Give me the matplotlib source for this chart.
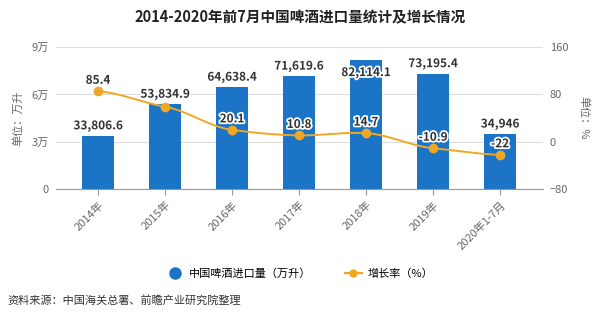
import numpy as np
import matplotlib
matplotlib.use("Agg")
import matplotlib.pyplot as plt
import matplotlib.patheffects as pe
from matplotlib.lines import Line2D

plt.rcParams['font.family'] = ['Noto Sans CJK SC', 'DejaVu Sans']

categories = ["2014年", "2015年", "2016年", "2017年", "2018年", "2019年", "2020年1-7月"]
imports = [33806.6, 53834.9, 64638.4, 71619.6, 82114.1, 73195.4, 34946]
import_labels = ["33,806.6", "53,834.9", "64,638.4", "71,619.6", "82,114.1", "73,195.4", "34,946"]
growth = [85.4, 59.3, 20.1, 10.8, 14.7, -10.9, -22]
growth_labels = ["85.4", "", "20.1", "10.8", "14.7", "-10.9", "-22"]
left_ticks = [0, 30000, 60000, 90000]
left_ticklabels = ["0", "3万", "6万", "9万"]
right_ticks = [-80, 0, 80, 160]

BAR = "#1B74C6"
LINE = "#F0A824"
TXT = "#333333"
GRAY = "#666666"

fig = plt.figure(figsize=(6, 3.25), dpi=100)
ax = fig.add_axes([0.093, 0.418, 0.812, 0.437])
ax2 = ax.twinx()

x = np.arange(len(categories))
ax.bar(x, imports, width=0.48, color=BAR, zorder=2)
ax.set_ylim(0, 90000)
ax.set_xlim(-0.63, 6.64)
ax.set_yticks(left_ticks)
ax.set_yticklabels(left_ticklabels)
ax.grid(axis='y', color='#dddddd', linewidth=0.8, zorder=0)
ax.set_axisbelow(True)
for s in ['top', 'right', 'left']:
    ax.spines[s].set_visible(False)
ax.spines['bottom'].set_color('#999999')
ax.tick_params(axis='y', length=0, labelsize=8, labelcolor=GRAY, pad=5)
ax.tick_params(axis='x', length=4, color='#999999', labelsize=8, labelcolor=GRAY)
ax.set_xticks(x)
ax.set_xticklabels(categories, rotation=45, ha='right', rotation_mode='anchor')

# smooth drawing of growth line (cubic Hermite through data points)
g = np.array(growth, dtype=float)
xs, ys = [], []
for i in range(len(g) - 1):
    p0 = g[i - 1] if i > 0 else g[i]
    p3 = g[i + 2] if i + 2 < len(g) else g[i + 1]
    m1 = (g[i + 1] - p0) / 2 * 0.6
    m2 = (p3 - g[i]) / 2 * 0.6
    t = np.linspace(0, 1, 30)
    h00 = 2 * t**3 - 3 * t**2 + 1
    h10 = t**3 - 2 * t**2 + t
    h01 = -2 * t**3 + 3 * t**2
    h11 = t**3 - t**2
    xs.extend(i + t)
    ys.extend(h00 * g[i] + h10 * m1 + h01 * g[i + 1] + h11 * m2)
ax2.plot(xs, ys, color=LINE, linewidth=1.4, zorder=3)
ax2.plot(x, growth, 'o', color=LINE, markersize=6, zorder=4)
ax2.set_ylim(-80, 160)
ax2.set_yticks(right_ticks)
for s in ['top', 'right', 'left', 'bottom']:
    ax2.spines[s].set_visible(False)
ax2.tick_params(axis='y', length=0, labelsize=8, labelcolor=GRAY, pad=5)

halo = [pe.withStroke(linewidth=2.5, foreground='white')]
for i, (v, lab) in enumerate(zip(imports, import_labels)):
    off = 10 if i != 4 else -13
    ax.annotate(lab, (x[i], v), xytext=(0, off), textcoords='offset pixels',
                ha='center', va='center', fontsize=8.5, fontweight='bold', color=TXT,
                path_effects=halo, zorder=6, annotation_clip=False)
for i, (v, lab) in enumerate(zip(growth, growth_labels)):
    if lab:
        ax2.annotate(lab, (x[i], v), xytext=(0, 11), textcoords='offset pixels',
                     ha='center', va='center', fontsize=8.5, fontweight='bold', color=TXT,
                     path_effects=halo, zorder=7, annotation_clip=False)

fig.text(0.5, 0.948, "2014-2020年前7月中国啤酒进口量统计及增长情况", ha='center', va='center',
         fontsize=10.5, fontweight='bold', color='#222222')
fig.text(0.03, 0.637, "单位：万升", rotation=90, ha='center', va='center', fontsize=8, color=GRAY)
fig.text(0.972, 0.637, "单位：%", rotation=-90, ha='center', va='center', fontsize=8, color=GRAY)

handles = [Line2D([0], [0], marker='o', color='none', markerfacecolor=BAR, markeredgecolor=BAR, markersize=8),
           Line2D([0], [0], marker='o', color=LINE, markerfacecolor=LINE, markeredgecolor=LINE, markersize=5, linewidth=1.6)]
fig.legend(handles, ["中国啤酒进口量（万升）", "增长率（%）"], loc='center', bbox_to_anchor=(0.5, 0.157),
           ncol=2, frameon=False, fontsize=8, handlelength=1.5, columnspacing=3, handletextpad=0.5)
fig.text(0.013, 0.077, "资料来源：中国海关总署、前瞻产业研究院整理", ha='left', va='center', fontsize=8, color=TXT)

fig.savefig("out.png", dpi=100)
